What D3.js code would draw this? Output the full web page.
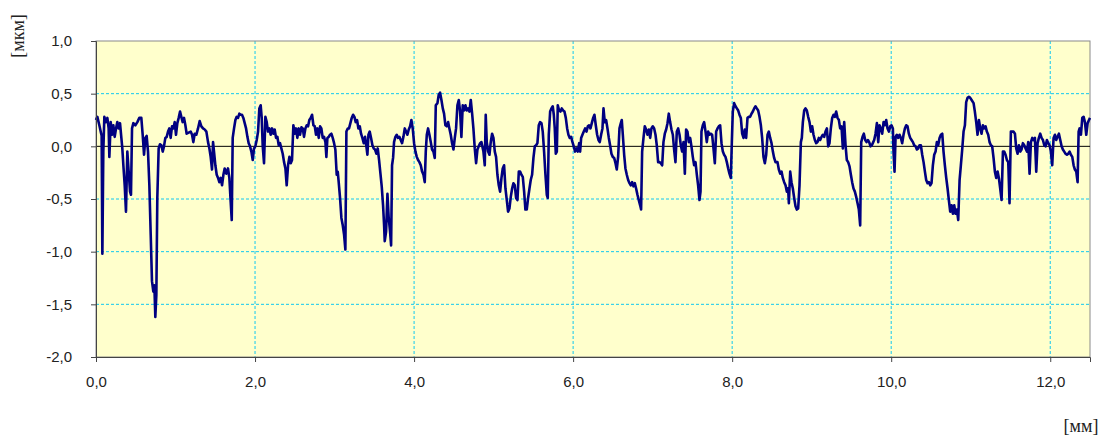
<!DOCTYPE html>
<html>
<head>
<meta charset="utf-8">
<script src="https://cdn.jsdelivr.net/npm/d3@7"></script>
<style>
  body { margin: 0; background: #fff; }
  svg { display: block; }
  .tick text { font-family: "Liberation Sans", Arial, sans-serif; font-size: 15px; fill: #222; }
</style>
</head>
<body>
<svg width="1110" height="437"></svg>
<script>
const svg = d3.select("svg"),
    width = +svg.attr("width"),
    height = +svg.attr("height");

const margin = { top: 41, right: 20, bottom: 80, left: 96 };
const w = width - margin.left - margin.right,
    h = height - margin.top - margin.bottom;

// axis ticks
const xTicks = [0, 2, 4, 6, 8, 10, 12];
const yTicks = [-2, -1.5, -1, -0.5, 0, 0.5, 1];
const xUnit = "[мм]";
const yUnit = "[мкм]";

// profile readings: [position mm, height µm]
const profile = [
  [0.000,0.25],[0.017,0.28],[0.042,0.20],[0.059,0.14],[0.071,0.10],[0.080,-1.02],[0.092,-0.05],[0.105,0.28],
  [0.126,0.23],[0.143,0.27],[0.159,0.17],[0.168,-0.10],[0.185,0.23],[0.201,0.11],[0.218,0.20],[0.235,0.09],
  [0.252,0.17],[0.268,0.23],[0.285,0.17],[0.302,0.22],[0.319,0.08],[0.331,-0.02],[0.344,-0.18],[0.361,-0.37],
  [0.377,-0.62],[0.394,-0.05],[0.411,-0.24],[0.428,-0.43],[0.440,-0.46],[0.453,0.17],[0.470,0.22],[0.495,0.20],
  [0.520,0.23],[0.545,0.27],[0.570,0.27],[0.587,0.11],[0.604,-0.08],[0.621,0.08],[0.637,0.10],[0.654,-0.05],
  [0.671,-0.37],[0.688,-0.84],[0.704,-1.28],[0.721,-1.38],[0.734,-1.32],[0.746,-1.62],[0.759,-1.41],[0.771,-0.49],
  [0.788,-0.02],[0.805,0.02],[0.822,0.01],[0.839,-0.05],[0.855,0.00],[0.872,0.08],[0.889,0.09],[0.906,0.14],
  [0.922,0.17],[0.939,0.08],[0.956,0.19],[0.973,0.17],[0.990,0.23],[1.006,0.11],[1.023,0.22],[1.040,0.27],
  [1.057,0.33],[1.073,0.28],[1.090,0.23],[1.107,0.27],[1.124,0.20],[1.140,0.12],[1.191,0.14],[1.208,0.11],
  [1.224,0.04],[1.241,0.12],[1.262,0.11],[1.283,0.17],[1.304,0.24],[1.325,0.19],[1.346,0.17],[1.367,0.16],
  [1.388,0.14],[1.409,0.04],[1.426,-0.02],[1.442,-0.10],[1.459,-0.22],[1.472,0.04],[1.484,-0.05],[1.501,-0.18],
  [1.518,-0.27],[1.535,-0.30],[1.551,-0.34],[1.568,-0.30],[1.585,-0.37],[1.602,-0.27],[1.618,-0.21],[1.639,-0.26],
  [1.660,-0.21],[1.677,-0.30],[1.694,-0.53],[1.707,-0.70],[1.719,0.08],[1.736,0.17],[1.753,0.25],[1.769,0.28],
  [1.786,0.27],[1.803,0.31],[1.820,0.30],[1.836,0.30],[1.853,0.27],[1.870,0.22],[1.887,0.17],[1.904,0.09],
  [1.920,0.03],[1.937,0.00],[1.954,-0.05],[1.971,-0.13],[1.987,-0.02],[2.004,0.00],[2.021,0.06],[2.038,0.14],
  [2.054,0.36],[2.071,0.39],[2.084,0.27],[2.096,0.01],[2.113,-0.16],[2.130,0.28],[2.147,0.23],[2.163,0.14],
  [2.180,0.17],[2.197,0.11],[2.214,0.17],[2.231,0.12],[2.247,0.16],[2.264,0.08],[2.281,0.09],[2.298,0.01],
  [2.314,0.03],[2.331,-0.02],[2.348,-0.07],[2.365,-0.15],[2.382,-0.21],[2.398,-0.37],[2.415,-0.18],[2.432,-0.10],
  [2.449,-0.16],[2.465,-0.13],[2.482,0.20],[2.499,0.12],[2.516,0.17],[2.532,0.08],[2.549,0.17],[2.566,0.11],
  [2.583,0.18],[2.600,0.17],[2.616,0.09],[2.633,0.17],[2.650,0.20],[2.667,0.19],[2.683,0.25],[2.700,0.27],
  [2.717,0.30],[2.734,0.20],[2.751,0.19],[2.767,0.11],[2.784,0.17],[2.801,0.08],[2.818,0.19],[2.834,0.17],
  [2.851,0.08],[2.868,0.09],[2.885,0.04],[2.897,-0.10],[2.910,0.08],[2.927,0.09],[2.943,0.11],[2.960,0.12],
  [2.977,0.08],[2.994,0.03],[3.010,-0.03],[3.027,-0.27],[3.040,-0.24],[3.052,-0.34],[3.069,-0.49],[3.086,-0.68],
  [3.103,-0.75],[3.120,-0.84],[3.136,-0.98],[3.149,0.14],[3.166,0.17],[3.182,0.17],[3.199,0.22],[3.216,0.27],
  [3.233,0.30],[3.250,0.28],[3.266,0.23],[3.283,0.25],[3.300,0.17],[3.317,0.19],[3.333,0.12],[3.350,0.08],
  [3.367,0.03],[3.384,0.09],[3.400,0.00],[3.413,-0.08],[3.426,0.11],[3.442,0.14],[3.459,0.08],[3.476,0.01],
  [3.493,-0.02],[3.509,-0.03],[3.526,-0.07],[3.543,-0.02],[3.560,-0.13],[3.577,-0.26],[3.593,-0.38],[3.610,-0.56],
  [3.623,-0.75],[3.631,-0.90],[3.648,-0.81],[3.665,-0.45],[3.681,-0.68],[3.698,-0.81],[3.711,-0.94],[3.723,-0.18],
  [3.736,-0.11],[3.748,0.04],[3.765,0.09],[3.782,0.11],[3.799,0.08],[3.815,0.09],[3.832,0.06],[3.849,0.03],
  [3.866,0.09],[3.883,0.17],[3.899,0.14],[3.916,0.11],[3.933,0.16],[3.950,0.19],[3.966,0.25],[3.983,0.17],
  [4.000,0.03],[4.017,-0.05],[4.034,-0.10],[4.050,-0.13],[4.067,-0.15],[4.084,-0.18],[4.101,-0.24],[4.118,-0.27],
  [4.134,-0.34],[4.147,-0.05],[4.160,0.11],[4.176,0.17],[4.193,0.11],[4.210,0.04],[4.226,-0.03],[4.243,-0.05],
  [4.260,-0.11],[4.273,0.39],[4.294,0.41],[4.310,0.49],[4.327,0.51],[4.344,0.44],[4.361,0.36],[4.377,0.31],
  [4.394,0.20],[4.411,0.19],[4.428,0.23],[4.444,0.17],[4.461,0.11],[4.478,0.03],[4.495,-0.03],[4.512,0.08],
  [4.528,0.17],[4.545,0.39],[4.562,0.44],[4.579,0.33],[4.595,0.09],[4.612,0.39],[4.629,0.34],[4.646,0.39],
  [4.662,0.34],[4.679,0.36],[4.696,0.33],[4.713,0.44],[4.730,0.31],[4.746,0.17],[4.763,-0.02],[4.780,-0.16],
  [4.797,-0.03],[4.813,0.00],[4.830,0.03],[4.847,0.04],[4.872,-0.05],[4.889,-0.18],[4.901,0.30],[4.914,0.04],
  [4.931,-0.05],[4.948,-0.08],[4.964,0.04],[4.981,0.12],[4.998,0.08],[5.015,-0.05],[5.031,-0.10],[5.048,-0.27],
  [5.065,-0.37],[5.082,-0.43],[5.099,-0.30],[5.115,-0.21],[5.132,-0.18],[5.149,-0.40],[5.166,-0.51],[5.182,-0.62],
  [5.199,-0.59],[5.216,-0.48],[5.233,-0.40],[5.249,-0.35],[5.266,-0.37],[5.283,-0.49],[5.300,-0.51],[5.317,-0.24],
  [5.333,-0.24],[5.350,-0.27],[5.367,-0.29],[5.384,-0.43],[5.400,-0.60],[5.417,-0.60],[5.434,-0.49],[5.451,-0.40],
  [5.467,-0.32],[5.484,-0.27],[5.501,-0.11],[5.518,0.00],[5.535,0.01],[5.551,0.03],[5.568,0.20],[5.585,0.23],
  [5.602,0.22],[5.618,0.14],[5.635,-0.05],[5.652,-0.27],[5.669,-0.46],[5.681,-0.49],[5.694,0.11],[5.711,0.33],
  [5.727,0.36],[5.744,0.38],[5.757,0.30],[5.769,0.17],[5.782,-0.07],[5.795,-0.05],[5.807,0.39],[5.824,0.34],
  [5.841,0.33],[5.857,0.36],[5.874,0.34],[5.891,0.33],[5.908,0.27],[5.925,0.17],[5.941,0.11],[5.958,0.08],
  [5.975,0.09],[5.992,0.04],[6.008,0.00],[6.025,-0.05],[6.042,-0.02],[6.059,-0.05],[6.076,0.03],[6.088,-0.05],
  [6.101,0.08],[6.117,0.11],[6.134,0.14],[6.151,0.17],[6.168,0.14],[6.185,0.19],[6.201,0.20],[6.218,0.17],
  [6.235,0.22],[6.252,0.27],[6.268,0.30],[6.285,0.20],[6.302,0.11],[6.319,0.06],[6.335,0.04],[6.352,0.11],
  [6.369,0.17],[6.382,0.36],[6.398,0.23],[6.415,0.25],[6.432,0.17],[6.449,0.08],[6.465,0.01],[6.482,-0.07],
  [6.499,-0.10],[6.516,-0.11],[6.533,-0.16],[6.549,-0.22],[6.566,-0.10],[6.583,0.17],[6.600,0.22],[6.612,0.25],
  [6.625,0.11],[6.642,-0.08],[6.658,-0.21],[6.675,-0.27],[6.692,-0.32],[6.709,-0.35],[6.725,-0.37],[6.742,-0.34],
  [6.759,-0.38],[6.776,-0.35],[6.792,-0.40],[6.809,-0.46],[6.826,-0.51],[6.843,-0.56],[6.855,-0.60],[6.868,-0.05],
  [6.885,0.08],[6.901,0.19],[6.918,0.16],[6.935,0.11],[6.952,0.16],[6.969,0.08],[6.985,0.17],[7.002,0.19],
  [7.019,0.17],[7.036,0.11],[7.052,0.01],[7.069,-0.15],[7.086,-0.15],[7.103,-0.16],[7.120,-0.18],[7.136,0.04],
  [7.153,0.12],[7.170,0.16],[7.187,0.22],[7.203,0.31],[7.220,0.23],[7.237,0.16],[7.254,0.11],[7.270,-0.03],
  [7.287,-0.15],[7.304,0.14],[7.321,0.17],[7.338,0.11],[7.354,0.01],[7.371,-0.05],[7.388,0.04],[7.405,-0.26],
  [7.421,0.16],[7.438,0.14],[7.455,0.04],[7.472,0.08],[7.488,0.00],[7.505,-0.10],[7.522,-0.18],[7.539,-0.15],
  [7.556,-0.27],[7.572,-0.37],[7.589,-0.51],[7.602,-0.43],[7.614,0.14],[7.631,0.20],[7.648,0.23],[7.665,0.14],
  [7.681,0.04],[7.698,0.14],[7.715,0.11],[7.732,0.12],[7.748,0.11],[7.765,-0.02],[7.782,-0.16],[7.799,0.14],
  [7.816,0.17],[7.832,0.19],[7.849,0.20],[7.866,0.03],[7.883,-0.05],[7.899,-0.08],[7.916,-0.10],[7.933,-0.15],
  [7.950,-0.21],[7.966,-0.26],[7.983,-0.30],[7.996,0.04],[8.008,0.33],[8.025,0.41],[8.042,0.38],[8.059,0.36],
  [8.076,0.34],[8.092,0.30],[8.109,0.27],[8.126,0.12],[8.143,0.08],[8.159,0.16],[8.176,0.08],[8.193,0.27],
  [8.210,0.28],[8.226,0.28],[8.243,0.31],[8.260,0.33],[8.277,0.36],[8.294,0.38],[8.310,0.36],[8.327,0.34],
  [8.344,0.28],[8.361,0.20],[8.377,0.08],[8.394,-0.10],[8.411,-0.16],[8.428,-0.08],[8.445,0.11],[8.461,0.14],
  [8.478,0.08],[8.495,0.03],[8.512,-0.05],[8.528,-0.11],[8.545,-0.15],[8.570,-0.15],[8.587,-0.22],[8.604,-0.26],
  [8.621,-0.24],[8.637,-0.30],[8.654,-0.34],[8.671,-0.37],[8.688,-0.43],[8.704,-0.40],[8.713,-0.54],[8.730,-0.24],
  [8.746,-0.34],[8.763,-0.40],[8.780,-0.49],[8.797,-0.57],[8.813,-0.60],[8.830,-0.59],[8.847,-0.37],[8.864,0.04],
  [8.876,0.08],[8.889,0.23],[8.906,0.34],[8.922,0.36],[8.939,0.34],[8.956,0.28],[8.973,0.23],[8.990,0.14],
  [9.006,0.19],[9.023,0.11],[9.040,0.06],[9.057,0.03],[9.073,0.04],[9.090,0.08],[9.107,0.06],[9.124,0.09],
  [9.140,0.11],[9.157,0.09],[9.174,0.14],[9.191,0.17],[9.208,0.00],[9.224,0.03],[9.241,0.17],[9.258,0.27],
  [9.275,0.30],[9.291,0.28],[9.308,0.33],[9.325,0.27],[9.342,0.25],[9.358,0.17],[9.375,0.19],[9.392,-0.02],
  [9.409,0.23],[9.426,0.01],[9.442,-0.13],[9.459,-0.15],[9.476,-0.19],[9.493,-0.27],[9.509,-0.34],[9.526,-0.40],
  [9.543,-0.43],[9.560,-0.48],[9.577,-0.54],[9.593,-0.60],[9.610,-0.75],[9.623,0.04],[9.640,0.09],[9.656,0.12],
  [9.673,0.06],[9.690,0.04],[9.707,0.06],[9.723,0.04],[9.740,0.00],[9.757,0.01],[9.774,0.04],[9.786,0.06],
  [9.803,0.12],[9.820,0.22],[9.837,0.04],[9.853,0.20],[9.870,0.17],[9.887,0.12],[9.904,0.23],[9.920,0.20],
  [9.937,0.25],[9.954,0.17],[9.971,0.14],[9.988,0.19],[10.004,0.20],[10.021,0.17],[10.029,-0.05],[10.042,-0.24],
  [10.055,0.09],[10.071,0.11],[10.088,0.08],[10.105,0.11],[10.122,0.08],[10.138,0.03],[10.155,0.11],[10.172,0.17],
  [10.189,0.20],[10.205,0.19],[10.222,0.12],[10.239,0.08],[10.256,0.06],[10.273,0.04],[10.289,0.01],[10.306,0.00],
  [10.323,-0.03],[10.340,-0.02],[10.356,0.01],[10.373,0.01],[10.390,-0.08],[10.407,-0.15],[10.424,-0.24],[10.440,-0.32],
  [10.457,-0.35],[10.474,-0.34],[10.491,-0.37],[10.507,-0.35],[10.524,-0.18],[10.541,-0.08],[10.558,-0.05],[10.574,0.04],
  [10.591,0.01],[10.608,0.08],[10.625,0.11],[10.642,0.12],[10.658,-0.05],[10.675,-0.18],[10.692,-0.30],[10.709,-0.40],
  [10.725,-0.51],[10.742,-0.62],[10.759,-0.56],[10.776,-0.64],[10.793,-0.56],[10.809,-0.64],[10.826,-0.60],[10.843,-0.70],
  [10.860,-0.32],[10.876,-0.18],[10.893,-0.03],[10.910,0.14],[10.927,0.20],[10.943,0.42],[10.960,0.46],[10.977,0.47],
  [10.994,0.46],[11.011,0.44],[11.036,0.41],[11.052,0.33],[11.069,0.23],[11.086,0.11],[11.103,0.25],[11.120,0.17],
  [11.136,0.12],[11.153,0.20],[11.170,0.17],[11.187,0.19],[11.203,0.14],[11.220,0.11],[11.237,0.04],[11.254,0.01],
  [11.270,0.00],[11.287,-0.11],[11.304,-0.24],[11.321,-0.30],[11.338,-0.24],[11.354,-0.30],[11.371,-0.40],[11.388,-0.51],
  [11.405,-0.05],[11.421,-0.05],[11.438,-0.08],[11.455,-0.13],[11.472,-0.15],[11.488,-0.54],[11.505,0.14],[11.522,0.14],
  [11.539,0.14],[11.556,0.12],[11.572,-0.02],[11.589,-0.07],[11.606,0.01],[11.623,-0.05],[11.639,-0.03],[11.656,0.03],
  [11.673,0.01],[11.690,-0.02],[11.707,-0.05],[11.723,0.04],[11.740,-0.26],[11.757,0.04],[11.774,0.08],[11.790,0.06],
  [11.807,0.08],[11.824,-0.24],[11.841,0.03],[11.857,0.08],[11.874,0.12],[11.891,0.08],[11.908,0.06],[11.925,0.01],
  [11.941,0.00],[11.958,0.06],[11.975,0.03],[11.992,0.01],[12.008,-0.05],[12.025,-0.18],[12.042,0.08],[12.059,0.11],
  [12.075,0.06],[12.092,0.09],[12.109,0.12],[12.126,0.06],[12.143,0.00],[12.159,-0.03],[12.176,-0.05],[12.193,-0.07],
  [12.210,-0.08],[12.226,-0.07],[12.243,-0.05],[12.260,-0.08],[12.277,-0.10],[12.294,-0.18],[12.310,-0.22],[12.327,-0.24],
  [12.344,-0.34],[12.357,0.14],[12.369,0.17],[12.386,0.11],[12.403,0.27],[12.420,0.28],[12.436,0.23],[12.453,0.11],
  [12.470,0.22],[12.487,0.25],[12.500,0.27]
];

const x = d3.scaleLinear().domain([0, 12.5]).range([0, w]);
const y = d3.scaleLinear().domain([-2, 1]).range([h, 0]);
const fmt = v => d3.format(".1f")(v).replace(".", ",").replace("−", "-");

const g = svg.append("g").attr("transform", `translate(${margin.left},${margin.top})`);

// background
g.append("rect")
    .attr("width", w)
    .attr("height", h)
    .attr("fill", "#ffffcc");

// grid
g.append("g")
    .selectAll("line")
    .data(yTicks.filter(d => d !== 0 && d !== -2 && d !== 1))
    .enter().append("line")
    .attr("x1", 0).attr("x2", w)
    .attr("y1", d => y(d)).attr("y2", d => y(d))
    .attr("stroke", "#11c8f0")
    .attr("stroke-width", 1)
    .attr("stroke-dasharray", "3,2");

g.append("g")
    .selectAll("line")
    .data(xTicks.filter(d => d !== 0))
    .enter().append("line")
    .attr("x1", d => x(d)).attr("x2", d => x(d))
    .attr("y1", 0).attr("y2", h)
    .attr("stroke", "#11c8f0")
    .attr("stroke-width", 1)
    .attr("stroke-dasharray", "3,2");

// frame
g.append("rect")
    .attr("width", w)
    .attr("height", h)
    .attr("fill", "none")
    .attr("stroke", "#8a8a8a")
    .attr("stroke-width", 1);

// zero line
g.append("line")
    .attr("x1", 0).attr("x2", w)
    .attr("y1", y(0)).attr("y2", y(0))
    .attr("stroke", "#000")
    .attr("stroke-width", 1);

// profile
const line = d3.line()
    .x(d => x(d[0]))
    .y(d => y(d[1]));

g.append("path")
    .datum(profile)
    .attr("fill", "none")
    .attr("stroke", "#000080")
    .attr("stroke-width", 2.6)
    .attr("stroke-linejoin", "round")
    .attr("d", line);

// axes
const yAxis = g.append("g")
    .call(d3.axisLeft(y).tickValues(yTicks).tickFormat(fmt).tickSize(5).tickPadding(19));
yAxis.select(".domain").attr("stroke", "#444");
yAxis.selectAll(".tick line").attr("stroke", "#444");

const xAxis = g.append("g")
    .attr("transform", `translate(0,${h})`)
    .call(d3.axisBottom(x).tickValues(xTicks).tickFormat(fmt).tickSize(5).tickPadding(14));
xAxis.select(".domain").attr("stroke", "#444");
xAxis.selectAll(".tick line").attr("stroke", "#444");

// units
svg.append("text")
    .attr("transform", "translate(24,36) rotate(-90)")
    .attr("text-anchor", "middle")
    .attr("font-family", "Liberation Serif, Times New Roman, serif")
    .attr("font-size", 18)
    .attr("fill", "#222")
    .text(yUnit);

svg.append("text")
    .attr("x", 1081)
    .attr("y", 432)
    .attr("text-anchor", "middle")
    .attr("font-family", "Liberation Serif, Times New Roman, serif")
    .attr("font-size", 18)
    .attr("fill", "#222")
    .text(xUnit);
</script>
</body>
</html>
